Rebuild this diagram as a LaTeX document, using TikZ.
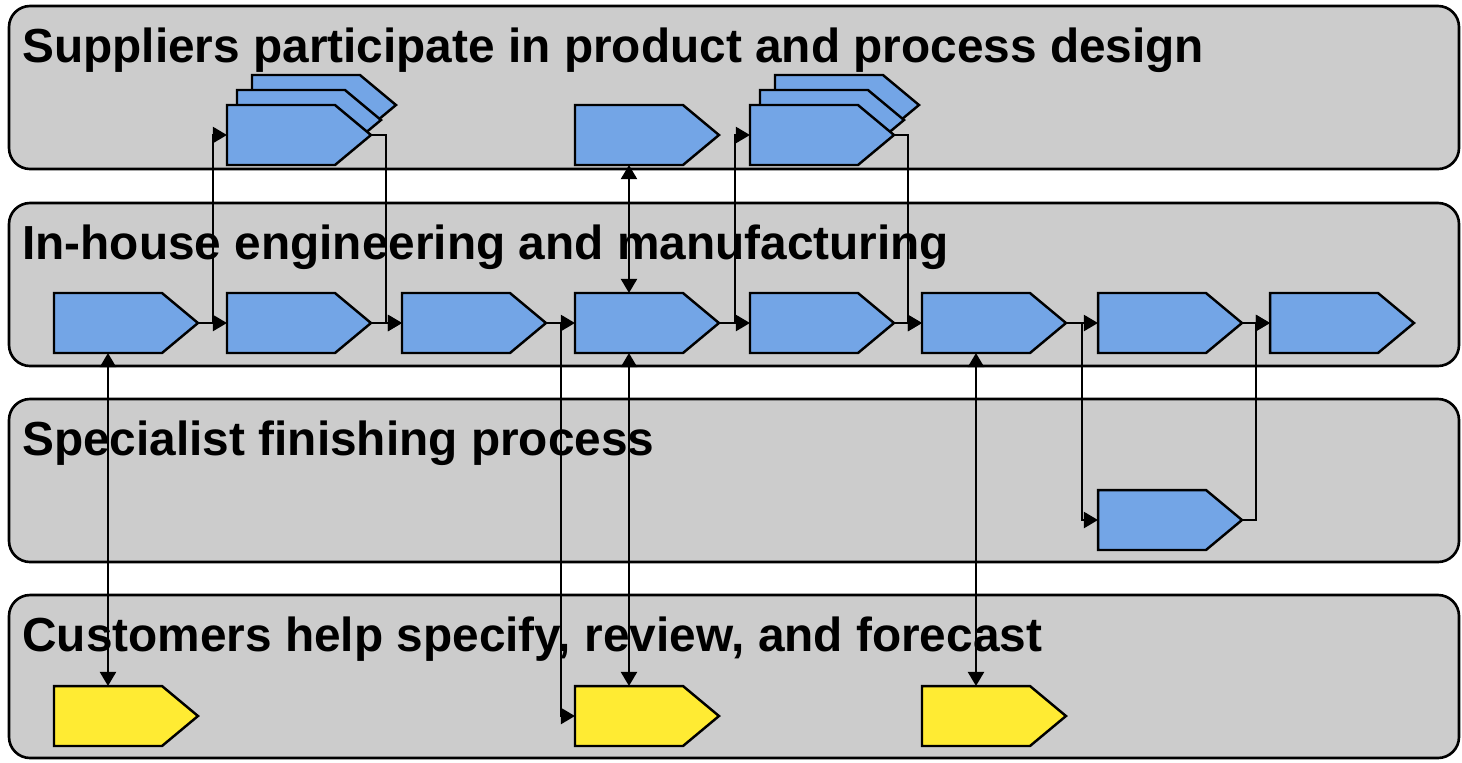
\documentclass[tikz,border=0pt]{standalone}
\usepackage{fontspec}
\setmainfont{Liberation Sans}
\usepackage{tikz}
\usetikzlibrary{arrows.meta}
\usetikzlibrary{shapes.symbols}

\definecolor{laneGray}{RGB}{204,204,204}
\definecolor{procBlue}{RGB}{115,165,230}
\definecolor{custYellow}{RGB}{255,235,51}

\tikzset{
	lane/.style={draw=black, line width=1.5pt, fill=laneGray, rounded corners=12pt},
	title/.style={anchor=base west, inner sep=0pt, font=\fontsize{27.2pt}{32pt}\selectfont\bfseries},
	proc/.style={signal, signal to=east, signal pointer angle=79.6, draw=black, line width=1.4pt,
		fill=procBlue, minimum width=2.88cm, minimum height=1.2cm, inner sep=0pt, outer sep=0pt, anchor=west},
	cust/.style={proc, fill=custYellow},
	conn/.style={line width=1.5pt, -{Triangle[length=8pt,width=9pt]}},
	both/.style={line width=1.5pt, {Triangle[length=8pt,width=9pt]}-{Triangle[length=8pt,width=9pt]}}
}

\begin{document}
\begin{tikzpicture}[x=0.02cm, y=-0.02cm]
		\useasboundingbox (0,0) rectangle (1462,762);
		% swim lanes
		\foreach \t/\n/\txt in{
				6/sup/{Suppliers participate in product and process design},
				203/inh/{In-house engineering and manufacturing},
				399/spc/{Specialist finishing process},
				595/cus/{Customers help specify, review, and forecast}
		}{
		\draw[lane] (9,\t) rectangle (1459,\t+163);
		\node[title] (\n) at (22,\t+56) {\txt};
		}
		% in-house chain
		\foreach \m/\x in{1/54,2/227,3/402,4/575,5/750,6/922,7/1098,8/1270}{
		\node[proc] (b\m) at (\x,323) {};
		}
		% supplier steps
		\node[proc] (s1c) at (252,105) {};
		\node[proc] (s1b) at (237,120) {};
		\node[proc] (s1) at (227,135) {};
		\node[proc] (s2) at (575,135) {};
		\node[proc] (s3c) at (775,105) {};
		\node[proc] (s3b) at (760,120) {};
		\node[proc] (s3) at (750,135) {};
		% finishing step
		\node[proc] (sp) at (1098,520) {};
		% customer steps
		\node[cust] (y1) at (54,716) {};
		\node[cust] (y2) at (575,716) {};
		\node[cust] (y3) at (922,716) {};

		\draw[conn] (b1.east) -- (b2.west);
		\draw[conn] (b2.east) -- (b3.west);
		\draw[conn] (b3.east) -- (b4.west);
		\draw[conn] (b4.east) -- (b5.west);
		\draw[conn] (b5.east) -- (b6.west);
		\draw[conn] (b6.east) -- (b7.west);
		\draw[conn] (b7.east) -- (b8.west);

		\draw[conn] (b1.east) -- ++(15,0) |- (s1.west);
		\draw[conn] (s1.east) -- ++(15,0) |- (b3.west);
		\draw[conn] (b3.east) -- ++(15,0) |- (y2.west);
		\draw[conn] (b4.east) -- ++(16,0) |- (s3.west);
		\draw[conn] (s3.east) -- ++(14,0) |- (b6.west);
		\draw[conn] (b6.east) -- ++(16,0) |- (sp.west);
		\draw[conn] (sp.east) -- ++(14,0) |- (b8.west);

		\draw[both] (b1.south) -- (y1.north);
		\draw[both] (b4.north) -- (s2.south);
		\draw[both] (b4.south) -- (y2.north);
		\draw[both] (b6.south) -- (y3.north);
\end{tikzpicture}
\end{document}
